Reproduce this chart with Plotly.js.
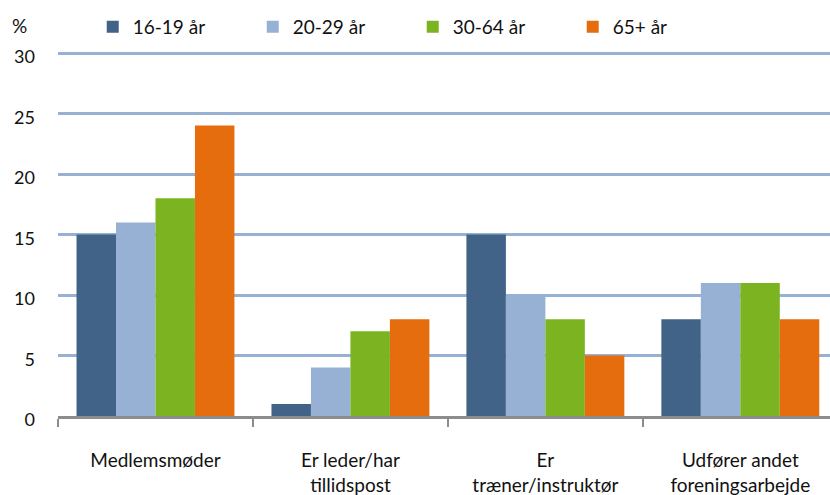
<!DOCTYPE html>
<html>
<head>
<meta charset="utf-8">
<script src="https://cdn.plot.ly/plotly-3.0.1.min.js"></script>
<style>html,body{margin:0;padding:0;background:#fff}#chart{width:830px;height:495px}</style>
</head>
<body>
<div id="chart"></div>
<script>
var categories = ["Medlemsmøder", "Er leder/har<br>tillidspost", "Er<br>træner/instruktør", "Udfører andet<br>foreningsarbejde"];
var seriesNames = ["16-19 år", "20-29 år", "30-64 år", "65+ år"];
var v16_19 = [15, 1, 15, 8];
var v20_29 = [16, 4, 10, 11];
var v30_64 = [18, 7, 8, 11];
var v65 = [24, 8, 5, 8];
var yTicks = [0, 5, 10, 15, 20, 25, 30];
var colors = ["#416387", "#96b1d3", "#7cb421", "#e56d0d"];
var allValues = [v16_19, v20_29, v30_64, v65];

var traces = allValues.map(function (vals, i) {
  return {
    type: "bar",
    name: seriesNames[i],
    x: categories,
    y: vals,
    marker: { color: colors[i], line: { width: 0 } },
    hoverinfo: "x+y+name"
  };
});

var font = "Lato, 'Open Sans', sans-serif";
var layout = {
  width: 830,
  height: 495,
  paper_bgcolor: "#fff",
  plot_bgcolor: "#fff",
  margin: { l: 58, r: 0, t: 50, b: 79, autoexpand: false },
  barmode: "group",
  bargap: 0.19,
  bargroupgap: 0,
  font: { family: font, size: 18, color: "#111" },
  showlegend: true,
  legend: {
    orientation: "h",
    x: 0.045, xanchor: "left",
    y: 1.0628, yanchor: "middle",
    entrywidth: 115, entrywidthmode: "pixels",
    font: { family: font, size: 19, color: "#111" },
    bgcolor: "rgba(0,0,0,0)",
    traceorder: "normal"
  },
  xaxis: {
    type: "category",
    range: [-0.5, 3.46],
    showline: true,
    linecolor: "#8c8c8c",
    linewidth: 3,
    ticks: "outside",
    tickson: "boundaries",
    ticklen: 8,
    tickwidth: 2,
    tickcolor: "#8c8c8c",
    showgrid: false,
    zeroline: false,
    ticklabelstandoff: 25,
    tickfont: { family: font, size: 19, color: "#111" },
    automargin: false
  },
  yaxis: {
    range: [0, 30.25],
    tickvals: yTicks,
    ticktext: yTicks.map(String),
    showgrid: true,
    gridcolor: "#96b1d3",
    gridwidth: 2.5,
    zeroline: false,
    showline: false,
    ticks: "",
    ticklabelstandoff: 22,
    ticklabelshift: 4,
    tickfont: { family: font, size: 18, color: "#111" },
    automargin: false
  },
  annotations: [{
    text: "%",
    xref: "paper", yref: "paper",
    x: -0.05, y: 1.0683,
    xanchor: "center", yanchor: "middle",
    showarrow: false,
    font: { family: font, size: 19, color: "#111" }
  }]
};

Plotly.newPlot("chart", traces, layout, { displayModeBar: false, staticPlot: false });
</script>
</body>
</html>
